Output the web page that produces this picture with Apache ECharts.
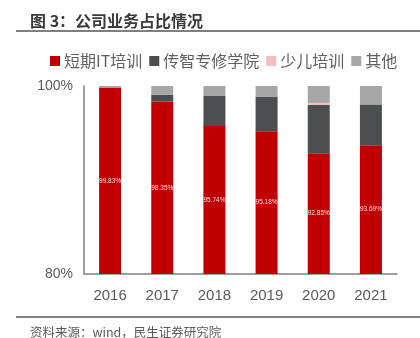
<!DOCTYPE html>
<html>
<head>
<meta charset="utf-8">
<script src="https://cdn.jsdelivr.net/npm/echarts@6/dist/echarts.min.js"></script>
<style>html,body{margin:0;padding:0;background:#fff;}#c{width:420px;height:338px;}</style>
</head>
<body>
<div id="c"></div>
<script>
var categories = ['2016', '2017', '2018', '2019', '2020', '2021'];
var seriesNames = ['短期IT培训', '传智专修学院', '少儿培训', '其他'];
var shortIT = [99.83, 98.35, 95.74, 95.18, 92.85, 93.69];
var zhuanxiu = [0, 0.70, 3.20, 3.70, 5.15, 4.35];
var shaoer = [0, 0, 0, 0, 0.20, 0];
var other = [0.17, 0.95, 1.06, 1.12, 1.80, 1.96];
var yTicks = [80, 100];

var FONT = "'Liberation Sans','Noto Sans CJK SC',sans-serif";
var chart = echarts.init(document.getElementById('c'), null, {renderer: 'canvas'});
var colors = ['#C00000', '#4D4E50', '#F2BFC0', '#A6A6A6'];
var dataArr = [shortIT, zhuanxiu, shaoer, other];

var series = dataArr.map(function (d, i) {
  var s = {
    name: seriesNames[i],
    type: 'bar',
    stack: 'total',
    barWidth: 22,
    data: d,
    itemStyle: {color: colors[i]},
    emphasis: {disabled: true}
  };
  if (i === 0) {
    s.label = {
      show: true,
      position: 'inside',
      formatter: function (p) { return p.value.toFixed(2) + '%'; },
      color: '#F8E0E0',
      fontSize: 6.5,
      fontFamily: FONT
    };
  }
  return s;
});

chart.setOption({
  animation: false,
  backgroundColor: '#fff',
  title: [{
    text: '图 3：公司业务占比情况',
    left: 25, top: 8,
    textStyle: {fontSize: 16, fontWeight: 'bold', color: '#3A3A3A', fontFamily: "'Noto Sans CJK SC',sans-serif"}
  }, {
    text: '资料来源：wind，民生证券研究院',
    left: 25, top: 321,
    textStyle: {fontSize: 12.5, fontWeight: 'normal', color: '#595959', fontFamily: "'Noto Sans CJK SC',sans-serif"}
  }],
  graphic: [
    {type: 'line', shape: {x1: 16, y1: 31, x2: 420, y2: 31}, style: {stroke: '#555', lineWidth: 1.5}},
    {type: 'line', shape: {x1: 16, y1: 317, x2: 420, y2: 317}, style: {stroke: '#555', lineWidth: 1.5}}
  ],
  legend: {
    data: seriesNames,
    left: 45, top: 48,
    itemWidth: 10, itemHeight: 10, itemGap: 7,
    icon: 'rect',
    textStyle: {fontSize: 16, color: '#606060', fontFamily: "'Noto Sans CJK SC',sans-serif", padding: [0, 0, 0, -1]}
  },
  grid: {left: 84, right: 23, top: 86, bottom: 64, containLabel: false},
  xAxis: {
    type: 'category',
    data: categories,
    axisLine: {lineStyle: {color: '#7F7F7F', width: 1.5}},
    axisTick: {show: false},
    axisLabel: {fontSize: 15, color: '#595959', margin: 14, fontFamily: FONT}
  },
  yAxis: {
    type: 'value',
    min: yTicks[0], max: yTicks[1], interval: yTicks[1] - yTicks[0],
    splitLine: {show: false},
    axisLine: {show: true, lineStyle: {color: '#7F7F7F', width: 1.5}},
    axisTick: {show: false},
    axisLabel: {fontSize: 14, color: '#595959', margin: 11, formatter: '{value}%', fontFamily: FONT}
  },
  series: series
});
</script>
</body>
</html>
